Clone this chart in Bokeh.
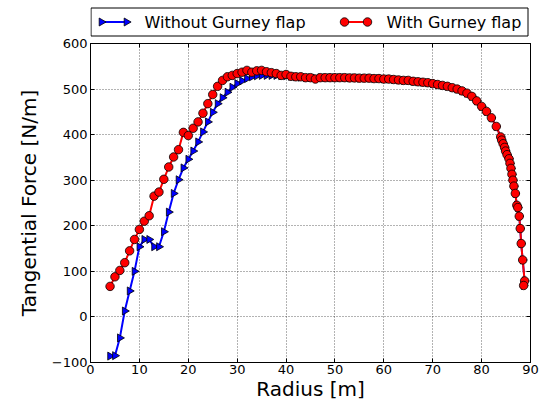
import numpy as np
from bokeh.plotting import figure
from bokeh.layouts import column
from bokeh.models import (FixedTicker, CustomJSTickFormatter, Range1d, LinearAxis)
from bokeh.core.properties import value
from bokeh.embed import file_html
from bokeh.resources import INLINE

# ---- data ----
radius_without = [4, 5, 6, 7, 8, 9, 10, 11, 12, 13, 14, 15, 16, 17, 18, 19, 20, 21, 22, 23,
                  24, 25, 26, 27, 28, 29, 30, 31, 32, 33, 34, 35, 36, 37, 38, 39, 40, 41, 42, 43,
                  44, 45, 46, 47, 48, 49, 50, 51, 52, 53, 54, 55, 56, 57, 58, 59, 60, 61, 62, 63,
                  64, 65, 66, 67, 68, 69, 70, 71, 72, 73, 74, 75, 76, 77, 78, 79, 80, 81, 82, 83,
                  83.9, 84.1, 84.4, 84.7, 84.9, 85.2, 85.6, 85.8, 86.0, 86.2, 86.4, 86.6, 86.9,
                  87.2, 87.4, 87.7, 87.9, 88.1, 88.4, 88.8, 88.6]
force_without = [-86, -85, -46, 13, 57, 100, 154, 170, 170, 154, 154, 187, 230, 271, 301, 327,
                 346, 364, 384, 406, 428, 449, 468, 481, 493, 504, 512, 518, 523, 527, 529, 530,
                 530, 530, 530, 529, 529, 528, 527, 526, 525, 525, 524, 525, 525, 525, 525, 525,
                 525, 524.5, 524.5, 524, 524, 524, 523, 523, 522, 522, 521, 520, 519, 519, 517,
                 516, 515, 514, 512, 510, 508, 506, 503, 500, 496, 491, 484, 474, 462, 451, 437,
                 418, 395, 388, 380, 372, 364, 356, 347, 337, 326, 313, 300, 287, 271, 245, 240,
                 221, 194, 161, 125, 79, 69]

radius_with = [4, 5, 6, 7, 8, 9, 10, 11, 12, 13, 14, 15, 16, 17, 18, 19, 20, 21, 22, 23,
               24, 25, 26, 27, 28, 29, 30, 31, 32, 33, 34, 35, 36, 37, 38, 39, 40, 41, 42, 43,
               44, 45, 46, 47, 48, 49, 50, 51, 52, 53, 54, 55, 56, 57, 58, 59, 60, 61, 62, 63,
               64, 65, 66, 67, 68, 69, 70, 71, 72, 73, 74, 75, 76, 77, 78, 79, 80, 81, 82, 83,
               83.9, 84.1, 84.4, 84.7, 84.9, 85.2, 85.6, 85.8, 86.0, 86.2, 86.4, 86.6, 86.9,
               87.2, 87.4, 87.7, 87.9, 88.1, 88.4, 88.8, 88.6]
force_with = [67, 88, 102, 119, 145, 170, 192, 210, 222, 265, 274, 302, 329, 351, 367, 405,
              398, 414, 428, 447, 468, 488, 506, 519, 527, 530, 534, 537, 541, 537, 540, 541,
              538, 536, 534, 530, 532, 528, 527, 527, 525, 525, 522, 525, 525, 525, 525, 525,
              525, 524.5, 524.5, 524, 524, 524, 523, 523, 522, 522, 521, 520, 519, 519, 517,
              516, 515, 514, 512, 510, 508, 506, 503, 500, 496, 491, 484, 474, 462, 451, 437,
              418, 395, 388, 380, 372, 364, 356, 347, 337, 326, 313, 300, 287, 271, 245, 240,
              221, 194, 161, 125, 79, 69]

x_ticks = [0, 10, 20, 30, 40, 50, 60, 70, 80, 90]
y_ticks = [-100, 0, 100, 200, 300, 400, 500, 600]

label_without = "Without Gurney flap"
label_with = "With Gurney flap"
x_label = "Radius [m]"
y_label = "Tangential Force [N/m]"

FONT = "DejaVu Sans"
LEFT = 90
RIGHT = 16
LEG_H = 37
FRAME_W = 440
FRAME_H = 319
BLUE = "#0000ff"
RED = "#ff0000"
TRI = 8
CIR = 8.5

# ---------------- legend strip (frame = pixel columns 90..530, rows 0..37) ----------------
lg = figure(frame_width=FRAME_W, frame_height=LEG_H,
            x_range=Range1d(LEFT, LEFT + FRAME_W), y_range=Range1d(LEG_H, 0),
            output_backend="svg", toolbar_location=None,
            min_border_left=LEFT, min_border_right=RIGHT,
            min_border_top=0, min_border_bottom=0)
lg.axis.visible = False
lg.grid.visible = False
lg.outline_line_color = None
lg.background_fill_color = "white"
lg.border_fill_color = "white"
lg.quad(left=[90.5], right=[527.5], top=[7.5], bottom=[35.5],
        fill_color="white", line_color="black", line_width=1)
ly = 21.5
lg.line([101, 126], [ly, ly], line_color=BLUE, line_width=2)
lg.scatter([101, 126], [ly, ly], marker="triangle", angle=-np.pi / 2, size=TRI,
           fill_color=BLUE, line_color="black", line_width=0.8)
lg.text([144], [ly], text=[label_without], text_font=value(FONT), text_font_size="16px",
        text_color="black", text_baseline="middle", text_align="left")
lg.line([344, 367], [ly, ly], line_color=RED, line_width=2)
lg.scatter([344, 367], [ly, ly], marker="circle", size=CIR,
           fill_color=RED, line_color="black", line_width=0.8)
lg.text([386], [ly], text=[label_with], text_font=value(FONT), text_font_size="16px",
        text_color="black", text_baseline="middle", text_align="left")

# ---------------- main chart ----------------
p = figure(frame_width=FRAME_W, frame_height=FRAME_H, x_range=(0, 90), y_range=(-100, 600),
           output_backend="svg", toolbar_location=None,
           min_border_left=LEFT, min_border_right=RIGHT, min_border_top=6, min_border_bottom=38)

p.background_fill_color = "white"
p.border_fill_color = "white"
p.outline_line_color = "black"
p.outline_line_width = 1
p.outline_line_alpha = 1

for g in (p.xgrid, p.ygrid):
    g.grid_line_color = "#000000"
    g.grid_line_alpha = 0.75
    g.grid_line_width = 0.8
    g.grid_line_dash = "1 2"
p.xgrid.ticker = FixedTicker(ticks=x_ticks)
p.ygrid.ticker = FixedTicker(ticks=y_ticks)

xb = p.below[0]
yl = p.left[0]
xt = LinearAxis()
yr = LinearAxis()
p.add_layout(yr, "right")
p.add_layout(xt, "above")

for ax in (xb, xt):
    ax.ticker = FixedTicker(ticks=x_ticks)
for ax in (yl, yr):
    ax.ticker = FixedTicker(ticks=y_ticks)
yl.formatter = CustomJSTickFormatter(
    code="return tick < 0 ? '\\u2212' + Math.abs(tick).toString() : tick.toString();")
for ax in (xb, yl, xt, yr):
    ax.axis_line_color = "black"
    ax.major_tick_in = 4
    ax.major_tick_out = 0
    ax.major_tick_line_color = "black"
    ax.minor_tick_in = 0
    ax.minor_tick_out = 0
    ax.major_label_text_font = FONT
    ax.major_label_text_font_size = "13px"
    ax.major_label_text_color = "black"
    ax.axis_label_text_font = FONT
    ax.axis_label_text_font_size = "20px"
    ax.axis_label_text_font_style = "normal"
    ax.axis_label_text_color = "black"
for ax in (xt, yr):
    ax.major_label_text_font_size = "0px"
    ax.major_label_standoff = 0
    ax.major_label_text_alpha = 0

xb.axis_label = x_label
yl.axis_label = y_label
xb.major_label_standoff = 2
xb.axis_label_standoff = 0
yl.major_label_standoff = 3
yl.axis_label_standoff = 8

p.line(radius_without, force_without, line_color=BLUE, line_width=2)
p.scatter(radius_without, force_without, marker="triangle", angle=-np.pi / 2,
          size=TRI, fill_color=BLUE, line_color="black", line_width=0.8)
p.line(radius_with, force_with, line_color=RED, line_width=2)
p.scatter(radius_with, force_with, marker="circle", size=CIR,
          fill_color=RED, line_color="black", line_width=0.8)

layout = column(lg, p, spacing=0)
open("out.html", "w").write(file_html(layout, INLINE))
